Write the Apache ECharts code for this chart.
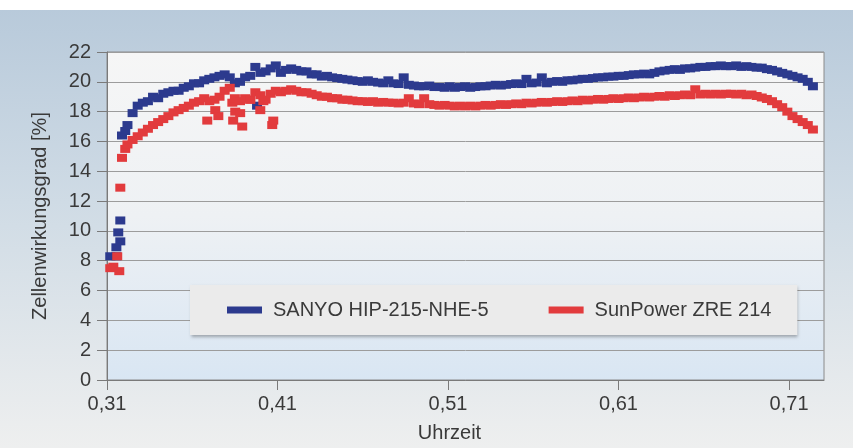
<!DOCTYPE html>
<html>
<head>
<meta charset="utf-8">
<script src="https://cdn.jsdelivr.net/npm/echarts@6/dist/echarts.min.js"></script>
<style>
  html, body { margin: 0; padding: 0; background: #ffffff; }
  #chart { width: 853px; height: 448px; }
</style>
</head>
<body>
<div id="chart"></div>
<script>
// ---- data (Uhrzeit as day fraction, Zellenwirkungsgrad in %) ----
const seriesNames = ['SANYO HIP-215-NHE-5', 'SunPower ZRE 214'];
const xTickValues = [0.31, 0.41, 0.51, 0.61, 0.71];
const yTicks = [0, 2, 4, 6, 8, 10, 12, 14, 16, 18, 20, 22];

const times = [
  0.322,0.325,0.328,0.331,0.334,0.337,0.340,0.343,0.346,0.349,
  0.352,0.355,0.358,0.361,0.364,0.367,0.370,0.373,0.376,0.379,
  0.382,0.385,0.388,0.391,0.394,0.397,0.400,0.403,0.406,0.409,
  0.412,0.415,0.418,0.421,0.424,0.427,0.430,0.433,0.436,0.439,
  0.442,0.445,0.448,0.451,0.454,0.457,0.460,0.463,0.466,0.469,
  0.472,0.475,0.478,0.481,0.484,0.487,0.490,0.493,0.496,0.499,
  0.502,0.505,0.508,0.511,0.514,0.517,0.520,0.523,0.526,0.529,
  0.532,0.535,0.538,0.541,0.544,0.547,0.550,0.553,0.556,0.559,
  0.562,0.565,0.568,0.571,0.574,0.577,0.580,0.583,0.586,0.589,
  0.592,0.595,0.598,0.601,0.604,0.607,0.610,0.613,0.616,0.619,
  0.622,0.625,0.628,0.631,0.634,0.637,0.640,0.643,0.646,0.649,
  0.652,0.655,0.658,0.661,0.664,0.667,0.670,0.673,0.676,0.679,
  0.682,0.685,0.688,0.691,0.694,0.697,0.700,0.703,0.706,0.709,
  0.712,0.715,0.718,0.721,0.724
];

const sanyo = [
  17.1,17.9,18.4,18.6,18.7,19.0,18.9,19.2,19.3,19.4,
  19.4,19.6,19.7,19.9,19.9,20.1,20.2,20.3,20.4,20.5,
  20.3,19.9,20.0,20.3,20.4,21.0,20.6,20.7,20.9,21.1,
  20.6,20.8,20.9,20.8,20.7,20.7,20.5,20.5,20.35,20.4,
  20.3,20.25,20.2,20.15,20.1,20.05,20.0,20.1,20.0,19.95,
  19.9,20.1,19.9,19.85,20.3,19.8,19.75,19.7,19.7,19.75,
  19.65,19.65,19.6,19.7,19.6,19.65,19.7,19.6,19.65,19.7,
  19.7,19.75,19.8,19.75,19.8,19.85,19.9,19.85,20.2,19.9,
  19.95,20.3,19.9,20.0,20.05,20.0,20.1,20.1,20.15,20.2,
  20.2,20.25,20.3,20.3,20.35,20.35,20.4,20.4,20.45,20.5,
  20.5,20.55,20.5,20.6,20.7,20.75,20.8,20.85,20.8,20.9,
  20.9,20.95,21.0,21.0,21.05,21.05,21.1,21.05,21.05,21.1,
  21.0,21.05,21.0,20.95,20.95,20.85,20.8,20.7,20.6,20.5,
  20.4,20.3,20.2,20.0,19.7
];

const sunpower = [
  15.8,16.1,16.35,16.6,16.85,17.1,17.3,17.5,17.7,17.95,
  18.1,18.25,18.4,18.6,18.7,18.9,18.7,18.8,19.0,19.4,
  19.6,18.9,18.7,18.9,18.8,19.3,19.1,18.8,19.2,19.4,
  19.3,19.4,19.5,19.4,19.3,19.3,19.2,19.1,19.0,19.0,
  18.9,18.9,18.8,18.8,18.75,18.7,18.7,18.65,18.7,18.6,
  18.65,18.6,18.6,18.55,18.6,18.9,18.55,18.5,18.9,18.5,
  18.45,18.4,18.45,18.4,18.35,18.4,18.35,18.4,18.35,18.4,
  18.45,18.4,18.45,18.5,18.45,18.5,18.55,18.5,18.6,18.55,
  18.6,18.65,18.6,18.65,18.7,18.65,18.7,18.75,18.7,18.8,
  18.75,18.8,18.85,18.8,18.85,18.9,18.85,18.9,18.95,18.9,
  18.95,19.0,18.95,19.0,19.05,19.0,19.1,19.05,19.1,19.15,
  19.1,19.5,19.15,19.2,19.15,19.2,19.15,19.2,19.2,19.15,
  19.2,19.1,19.15,19.05,18.95,18.85,18.7,18.5,18.3,18.0,
  17.7,17.5,17.3,17.1,16.8
];

// start-up and scattered readings
const sanyoExtraTimes = [0.3119,0.3155,0.3155,0.3166,0.3178,0.3178,0.3188,0.3207,0.3980];
const sanyoExtra      = [8.3,   8.3,   8.9,   9.9,   9.3,   10.7,  16.4,  16.7,  18.4];

const sunpowerExtraTimes = [0.3119,0.3137,0.3160,0.3172,0.3178,0.3188,0.3207,0.3688,0.3735,0.3753,
                            0.3835,0.3840,0.3852,0.3881,0.3893,0.3940,0.3999,0.4017,0.4069,0.4075];
const sunpowerExtra      = [7.5,   7.6,   8.3,   7.3,   12.9,  14.9,  15.5,  17.4,  18.1,  17.7,
                            18.6,  17.4,  18.0,  17.9,  17.0,  18.8,  18.1,  18.7,  17.1,  17.4];

// ---- build ----
const X0 = 0.31;   // axis origin (first tick label)
const XEND = 0.7305;
function pts(ts, vs) { return ts.map((t, i) => [t - X0, vs[i]]); }
const sanyoData = pts(sanyoExtraTimes, sanyoExtra).concat(pts(times, sanyo));
const sunData = pts(sunpowerExtraTimes, sunpowerExtra).concat(pts(times, sunpower));

const FONT = 'Liberation Sans';
const TXT = '#3a3a3a';
const chart = echarts.init(document.getElementById('chart'), null, { renderer: 'canvas' });

chart.setOption({
  animation: false,
  backgroundColor: new echarts.graphic.LinearGradient(0, 0, 0, 1, [
    { offset: 0, color: '#b7c9da' },
    { offset: 0.45, color: '#cfdbe5' },
    { offset: 1, color: '#eeefef' }
  ]),
  graphic: [
    { type: 'rect', silent: true, z: -10, shape: { x: 0, y: 0, width: 853, height: 10 }, style: { fill: '#ffffff' } }
  ],
  grid: {
    left: 107, right: 29, top: 52, bottom: 63,
    show: true,
    borderColor: '#8a8a8a', borderWidth: 1,
    backgroundColor: new echarts.graphic.LinearGradient(0, 0, 0, 1, [
      { offset: 0, color: '#f6f6f6' },
      { offset: 0.5, color: '#eef1f4' },
      { offset: 1, color: '#d9e6f3' }
    ])
  },
  legend: {
    left: 190, top: 285,
    icon: 'rect', itemWidth: 35, itemHeight: 7, itemGap: 60,
    padding: [15, 26, 15, 37],
    backgroundColor: '#ebebeb',
    shadowColor: 'rgba(0,0,0,0.3)', shadowBlur: 3, shadowOffsetX: 1, shadowOffsetY: 2,
    textStyle: { fontFamily: FONT, fontSize: 20, color: TXT, padding: [0, 0, 0, 6] },
    data: seriesNames
  },
  xAxis: {
    type: 'value',
    min: 0, max: XEND - X0, interval: 0.1,
    name: 'Uhrzeit', nameLocation: 'middle', nameGap: 43,
    nameTextStyle: { fontFamily: FONT, fontSize: 20, color: TXT, padding: [0, 32, 0, 0] },
    axisLine: { show: true, lineStyle: { color: '#7a7a7a', width: 1 } },
    axisTick: { show: true, inside: false, length: 10, lineStyle: { color: '#7a7a7a' },
                customValues: xTickValues.map(v => +(v - X0).toFixed(4)) },
    axisLabel: { fontFamily: FONT, fontSize: 20, color: TXT, margin: 14,
                 customValues: xTickValues.map(v => +(v - X0).toFixed(4)),
                 formatter: v => (v + X0).toFixed(2).replace('.', ',') },
    splitLine: { show: false }
  },
  yAxis: {
    type: 'value',
    min: yTicks[0], max: yTicks[yTicks.length - 1], interval: 2,
    name: 'Zellenwirkungsgrad [%]', nameLocation: 'middle', nameGap: 57, nameRotate: 90,
    nameTextStyle: { fontFamily: FONT, fontSize: 20, color: TXT },
    axisLine: { show: true, lineStyle: { color: '#7a7a7a', width: 1 } },
    axisTick: { show: true, inside: false, length: 10, lineStyle: { color: '#7a7a7a' } },
    axisLabel: { fontFamily: FONT, fontSize: 20, color: TXT, margin: 16 },
    splitLine: { show: true, lineStyle: { color: '#9c9c9c', width: 1 } }
  },
  series: [
    {
      name: seriesNames[0], type: 'scatter',
      symbol: 'rect', symbolSize: [10, 8],
      itemStyle: { color: '#2c3a8e', opacity: 1 },
      data: sanyoData
    },
    {
      name: seriesNames[1], type: 'scatter',
      symbol: 'rect', symbolSize: [10, 8],
      itemStyle: { color: '#e23b3d', opacity: 1 },
      data: sunData
    }
  ]
});
</script>
</body>
</html>
